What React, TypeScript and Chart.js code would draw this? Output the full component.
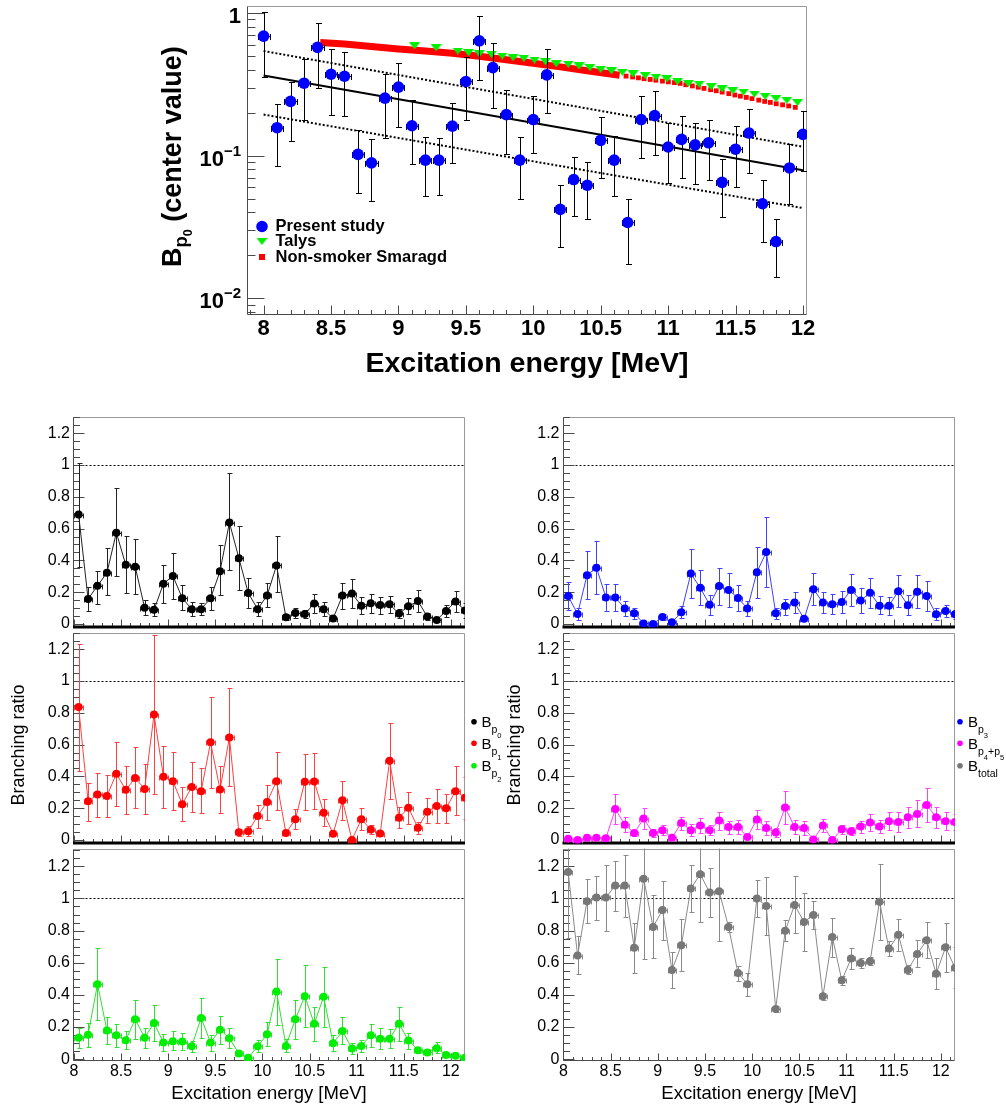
import React, { useEffect, useRef } from 'react';
import { Chart, registerables } from 'chart.js';

Chart.register(...registerables);

const FONT = '"Liberation Sans", Arial, Helvetica, sans-serif';

/* ====================== DATA ====================== */
// Excitation energies (MeV)
const topEnergies = [8.0, 8.1, 8.2, 8.3, 8.4, 8.5, 8.6, 8.7, 8.8, 8.9, 9.0, 9.1, 9.2, 9.3, 9.4, 9.5, 9.6, 9.7, 9.8, 9.9, 10.0, 10.1, 10.2, 10.3, 10.4, 10.5, 10.6, 10.7, 10.8, 10.9, 11.0, 11.1, 11.2, 11.3, 11.4, 11.5, 11.6, 11.7, 11.8, 11.9, 12.0];
const binEnergies = [8.05, 8.15, 8.25, 8.35, 8.45, 8.55, 8.65, 8.75, 8.85, 8.95, 9.05, 9.15, 9.25, 9.35, 9.45, 9.55, 9.65, 9.75, 9.85, 9.95, 10.05, 10.15, 10.25, 10.35, 10.45, 10.55, 10.65, 10.75, 10.85, 10.95, 11.05, 11.15, 11.25, 11.35, 11.45, 11.55, 11.65, 11.75, 11.85, 11.95, 12.05, 12.15];

// B_p0 (present study)
const bp0 = [0.688, 0.157, 0.240, 0.322, 0.574, 0.372, 0.360, 0.102, 0.089, 0.253, 0.302, 0.162, 0.093, 0.093, 0.161, 0.331, 0.638, 0.414, 0.194, 0.093, 0.179, 0.368, 0.042, 0.068, 0.062, 0.128, 0.093, 0.034, 0.179, 0.191, 0.115, 0.130, 0.119, 0.123, 0.065, 0.111, 0.144, 0.046, 0.025, 0.082, 0.141, 0.085];
const bp0Hi = [1.016, 0.230, 0.330, 0.476, 0.856, 0.556, 0.535, 0.152, 0.130, 0.372, 0.444, 0.244, 0.135, 0.133, 0.234, 0.494, 0.948, 0.618, 0.289, 0.135, 0.260, 0.556, 0.062, 0.098, 0.090, 0.186, 0.137, 0.050, 0.260, 0.282, 0.170, 0.189, 0.170, 0.177, 0.094, 0.162, 0.212, 0.067, 0.036, 0.120, 0.207, 0.132];
const bp0Lo = [0.358, 0.084, 0.126, 0.179, 0.300, 0.194, 0.189, 0.055, 0.048, 0.133, 0.158, 0.088, 0.052, 0.053, 0.089, 0.179, 0.338, 0.215, 0.103, 0.050, 0.105, 0.198, 0.023, 0.038, 0.036, 0.070, 0.052, 0.0175, 0.096, 0.101, 0.064, 0.070, 0.063, 0.067, 0.037, 0.060, 0.076, 0.025, 0.014, 0.046, 0.078, 0.036];

// B_p1
const bp1 = [0.836, 0.243, 0.286, 0.276, 0.417, 0.315, 0.389, 0.321, 0.789, 0.397, 0.370, 0.225, 0.333, 0.307, 0.614, 0.317, 0.645, 0.048, 0.054, 0.151, 0.239, 0.370, 0.044, 0.130, 0.366, 0.368, 0.171, 0.038, 0.249, 0.000, 0.130, 0.065, 0.040, 0.499, 0.140, 0.202, 0.077, 0.177, 0.214, 0.200, 0.307, 0.266];
const bp1Hi = [1.234, 0.360, 0.424, 0.409, 0.618, 0.467, 0.584, 0.479, 1.290, 0.594, 0.553, 0.331, 0.491, 0.452, 0.901, 0.464, 0.957, 0.071, 0.085, 0.222, 0.348, 0.553, 0.061, 0.194, 0.538, 0.546, 0.255, 0.054, 0.372, 0.012, 0.198, 0.091, 0.054, 0.738, 0.208, 0.303, 0.110, 0.262, 0.323, 0.290, 0.465, 0.399];
const bp1Lo = [0.434, 0.122, 0.147, 0.147, 0.214, 0.163, 0.202, 0.163, 0.286, 0.200, 0.190, 0.118, 0.177, 0.167, 0.327, 0.167, 0.337, 0.026, 0.026, 0.077, 0.128, 0.188, 0.028, 0.067, 0.190, 0.194, 0.087, 0.028, 0.128, -0.012, 0.061, 0.036, 0.026, 0.260, 0.075, 0.102, 0.040, 0.108, 0.108, 0.106, 0.157, 0.132];

// B_p2
const bp2 = [0.134, 0.153, 0.467, 0.179, 0.149, 0.118, 0.249, 0.134, 0.225, 0.104, 0.112, 0.110, 0.081, 0.257, 0.104, 0.184, 0.130, 0.036, 0.009, 0.081, 0.155, 0.421, 0.083, 0.249, 0.392, 0.221, 0.388, 0.099, 0.175, 0.067, 0.083, 0.149, 0.128, 0.128, 0.221, 0.116, 0.056, 0.042, 0.069, 0.026, 0.022, 0.009];
const bp2Hi = [0.194, 0.226, 0.692, 0.262, 0.221, 0.175, 0.368, 0.196, 0.335, 0.155, 0.174, 0.165, 0.114, 0.380, 0.153, 0.270, 0.194, 0.052, 0.015, 0.118, 0.231, 0.624, 0.124, 0.370, 0.585, 0.323, 0.573, 0.149, 0.262, 0.104, 0.122, 0.221, 0.194, 0.190, 0.327, 0.163, 0.077, 0.061, 0.106, 0.036, 0.030, 0.013];
const bp2Lo = [0.067, 0.073, 0.241, 0.097, 0.073, 0.061, 0.126, 0.067, 0.112, 0.052, 0.056, 0.056, 0.046, 0.134, 0.052, 0.093, 0.067, 0.019, 0.003, 0.046, 0.083, 0.216, 0.042, 0.128, 0.200, 0.112, 0.200, 0.052, 0.093, 0.030, 0.046, 0.077, 0.063, 0.067, 0.112, 0.061, 0.036, 0.024, 0.036, 0.016, 0.014, 0.005];

// B_p3
const bp3 = [0.175, 0.063, 0.307, 0.354, 0.167, 0.167, 0.097, 0.067, 0.003, 0.000, 0.044, 0.011, 0.073, 0.317, 0.227, 0.120, 0.239, 0.214, 0.163, 0.097, 0.325, 0.452, 0.067, 0.112, 0.134, 0.032, 0.218, 0.134, 0.124, 0.138, 0.214, 0.147, 0.196, 0.114, 0.114, 0.206, 0.118, 0.202, 0.175, 0.060, 0.081, 0.060];
const bp3Hi = [0.262, 0.097, 0.456, 0.523, 0.251, 0.251, 0.143, 0.101, 0.008, 0.005, 0.065, 0.018, 0.110, 0.471, 0.339, 0.183, 0.354, 0.323, 0.245, 0.143, 0.483, 0.672, 0.101, 0.155, 0.200, 0.045, 0.319, 0.200, 0.190, 0.208, 0.316, 0.226, 0.290, 0.175, 0.169, 0.306, 0.179, 0.308, 0.267, 0.097, 0.118, 0.087];
const bp3Lo = [0.087, 0.026, 0.155, 0.190, 0.081, 0.081, 0.052, 0.032, -0.002, -0.005, 0.024, 0.004, 0.036, 0.165, 0.118, 0.056, 0.122, 0.104, 0.081, 0.052, 0.165, 0.231, 0.032, 0.056, 0.067, 0.020, 0.118, 0.067, 0.063, 0.067, 0.112, 0.067, 0.097, 0.060, 0.056, 0.108, 0.056, 0.097, 0.081, 0.026, 0.046, 0.030];

// B_p4+p5
const bp45 = [0.007, 0.000, 0.013, 0.013, 0.011, 0.194, 0.095, 0.044, 0.134, 0.044, 0.061, 0.013, 0.106, 0.061, 0.091, 0.061, 0.122, 0.081, 0.081, 0.019, 0.128, 0.075, 0.046, 0.204, 0.081, 0.075, 0.003, 0.091, 0.000, 0.067, 0.054, 0.085, 0.110, 0.085, 0.118, 0.112, 0.143, 0.163, 0.220, 0.143, 0.118, 0.112];
const bp45Hi = [0.012, 0.004, 0.018, 0.018, 0.016, 0.290, 0.143, 0.065, 0.200, 0.070, 0.091, 0.018, 0.147, 0.097, 0.137, 0.091, 0.178, 0.122, 0.128, 0.026, 0.190, 0.118, 0.075, 0.307, 0.126, 0.118, 0.008, 0.132, 0.004, 0.091, 0.081, 0.122, 0.163, 0.126, 0.173, 0.173, 0.208, 0.249, 0.327, 0.204, 0.173, 0.163];
const bp45Lo = [0.002, -0.004, 0.008, 0.008, 0.006, 0.102, 0.050, 0.024, 0.067, 0.020, 0.030, 0.008, 0.061, 0.024, 0.046, 0.030, 0.061, 0.040, 0.036, 0.012, 0.067, 0.030, 0.019, 0.102, 0.036, 0.034, -0.002, 0.050, -0.004, 0.040, 0.030, 0.046, 0.056, 0.044, 0.061, 0.050, 0.077, 0.081, 0.112, 0.077, 0.061, 0.061];

// B_total
const btot = [1.164, 0.645, 0.983, 1.006, 1.006, 1.080, 1.080, 0.694, 1.123, 0.823, 0.928, 0.555, 0.709, 1.062, 1.150, 1.037, 1.045, 0.823, 0.536, 0.467, 1.000, 0.953, 0.313, 0.799, 0.959, 0.854, 0.897, 0.391, 0.760, 0.491, 0.627, 0.598, 0.610, 0.979, 0.688, 0.774, 0.555, 0.655, 0.740, 0.532, 0.696, 0.569];
const btotHi = [1.400, 0.764, 1.119, 1.140, 1.205, 1.232, 1.270, 0.850, 1.400, 1.021, 1.111, 0.666, 0.871, 1.205, 1.400, 1.189, 1.400, 0.853, 0.580, 0.538, 1.113, 1.133, 0.333, 0.863, 1.137, 1.031, 0.984, 0.409, 0.881, 0.518, 0.692, 0.627, 0.635, 1.215, 0.733, 0.873, 0.585, 0.744, 0.852, 0.631, 0.850, 0.696];
const btotLo = [0.754, 0.528, 0.846, 0.867, 0.799, 0.924, 0.885, 0.538, 0.621, 0.631, 0.740, 0.446, 0.549, 0.918, 0.856, 0.887, 0.738, 0.793, 0.487, 0.395, 0.887, 0.770, 0.292, 0.733, 0.785, 0.676, 0.811, 0.370, 0.637, 0.463, 0.563, 0.569, 0.586, 0.742, 0.641, 0.676, 0.528, 0.573, 0.631, 0.436, 0.543, 0.446];

// Talys
const talysE = [9.12, 9.28, 9.44, 9.52, 9.60, 9.69, 9.77, 9.85, 9.93, 10.01, 10.09, 10.17, 10.26, 10.34, 10.42, 10.50, 10.58, 10.66, 10.74, 10.83, 10.91, 10.99, 11.07, 11.15, 11.23, 11.32, 11.40, 11.48, 11.56, 11.64, 11.72, 11.80, 11.88, 11.96];
const talysV = [0.589, 0.571, 0.541, 0.527, 0.518, 0.513, 0.499, 0.486, 0.481, 0.468, 0.456, 0.441, 0.437, 0.425, 0.414, 0.403, 0.393, 0.384, 0.374, 0.364, 0.355, 0.345, 0.331, 0.320, 0.317, 0.305, 0.294, 0.285, 0.279, 0.270, 0.260, 0.251, 0.244, 0.236];

// Non-smoker Smaragd (dense part, drawn as a band) and discrete part
const smaragdBandE = [8.42, 8.6, 8.8, 9.0, 9.2, 9.4, 9.6, 9.8, 10.0, 10.2, 10.4, 10.64];
const smaragdBandV = [0.620, 0.605, 0.583, 0.560, 0.542, 0.522, 0.497, 0.470, 0.444, 0.419, 0.393, 0.366];
const smaragdE = [10.688, 10.737, 10.78, 10.822, 10.867, 10.909, 10.958, 11.002, 11.047, 11.089, 11.131, 11.18, 11.224, 11.266, 11.315, 11.357, 11.401, 11.45, 11.495, 11.536, 11.58, 11.622, 11.672, 11.716, 11.758, 11.802, 11.849, 11.894, 11.943];
const smaragdV = [0.361, 0.356, 0.351, 0.346, 0.342, 0.338, 0.333, 0.329, 0.325, 0.321, 0.314, 0.308, 0.302, 0.296, 0.290, 0.285, 0.279, 0.272, 0.266, 0.261, 0.256, 0.251, 0.245, 0.240, 0.236, 0.231, 0.227, 0.223, 0.218];

// exponential fit and its band
const fitE = [8.0, 12.0];
const fitCentral = [0.364, 0.0789];
const fitUpper = [0.541, 0.1154];
const fitLower = [0.194, 0.0429];

// ticks
const topXTicks = [8, 8.5, 9, 9.5, 10, 10.5, 11, 11.5, 12];
const topXTickLabels = ['8', '8.5', '9', '9.5', '10', '10.5', '11', '11.5', '12'];
const topYTicks = [0.01, 0.1, 1];
const topYTickBase = ['10', '10', '1'];
const topYTickExp = ['\u22122', '\u22121', ''];
const brXTicks = [8, 8.5, 9, 9.5, 10, 10.5, 11, 11.5, 12];
const brXTickLabels = ['8', '8.5', '9', '9.5', '10', '10.5', '11', '11.5', '12'];
const brYTicks = [0, 0.2, 0.4, 0.6, 0.8, 1, 1.2];
const brYTickLabels = ['0', '0.2', '0.4', '0.6', '0.8', '1', '1.2'];

const topLegendLabels = ['Present study', 'Talys', 'Non-smoker Smaragd'];
type Seg = [string, number];
const leftLegendLabels: Seg[][] = [
  [['B', 0], ['p', 1], ['0', 2]],
  [['B', 0], ['p', 1], ['1', 2]],
  [['B', 0], ['p', 1], ['2', 2]],
];
const rightLegendLabels: Seg[][] = [
  [['B', 0], ['p', 1], ['3', 2]],
  [['B', 0], ['p', 1], ['4', 2], ['+', 1], ['p', 1], ['5', 2]],
  [['B', 0], ['total', 1]],
];
const leftLegendColors = ['#000000', '#ff0000', '#00ee00'];
const rightLegendColors = ['#0000ff', '#ff00ff', '#777777'];

/* ====================== HELPERS ====================== */
function drawRich(ctx: CanvasRenderingContext2D, segs: Seg[], x: number, y: number, sizes: number[], offs: number[], weight = '') {
  let cx = x;
  segs.forEach(([t, lvl]) => {
    ctx.font = `${weight} ${sizes[lvl]}px ${FONT}`;
    ctx.fillText(t, cx, y + offs[lvl]);
    cx += ctx.measureText(t).width;
  });
  return cx;
}

function makeTriangle(color: string, w = 11, h = 7) {
  const c = document.createElement('canvas');
  c.width = w;
  c.height = h;
  const g = c.getContext('2d')!;
  g.fillStyle = color;
  g.beginPath();
  g.moveTo(0, 0);
  g.lineTo(w, 0);
  g.lineTo(w / 2, h);
  g.closePath();
  g.fill();
  return c;
}

const errorBarPlugin = {
  id: 'errorBars',
  beforeDatasetDraw(chart: any, args: any) {
    const ds: any = chart.data.datasets[args.index];
    if (!ds || !ds.errHi) return;
    const xs = chart.scales.x;
    const ys = chart.scales.y;
    const ctx = chart.ctx as CanvasRenderingContext2D;
    const a = chart.chartArea;
    ctx.save();
    ctx.beginPath();
    ctx.rect(a.left, a.top, a.right - a.left, a.bottom - a.top);
    ctx.clip();
    ctx.strokeStyle = ds.errColor;
    ctx.lineWidth = 1;
    ctx.beginPath();
    ds.data.forEach((pt: any, i: number) => {
      const px = Math.round(xs.getPixelForValue(pt.x)) + 0.5;
      const py = Math.round(ys.getPixelForValue(pt.y)) + 0.5;
      const hi = Math.round(ys.getPixelForValue(ds.errHi[i])) + 0.5;
      const lo = Math.round(ys.getPixelForValue(ds.errLo[i])) + 0.5;
      const xl = Math.round(xs.getPixelForValue(pt.x - ds.xErr)) + 0.5;
      const xr = Math.round(xs.getPixelForValue(pt.x + ds.xErr)) + 0.5;
      const c = ds.cap;
      if (Math.abs(lo - hi) > 1) {
        ctx.moveTo(px, hi); ctx.lineTo(px, lo);
        ctx.moveTo(px - c, hi); ctx.lineTo(px + c + 1, hi);
        ctx.moveTo(px - c, lo); ctx.lineTo(px + c + 1, lo);
      }
      ctx.moveTo(xl, py); ctx.lineTo(xr, py);
      ctx.moveTo(xl, py - c); ctx.lineTo(xl, py + c + 1);
      ctx.moveTo(xr, py - c); ctx.lineTo(xr, py + c + 1);
    });
    ctx.stroke();
    ctx.restore();
  },
};

type AxesOpts = {
  xMajor: number[]; xMinor: number[]; yMajor: number[]; yMinor: number[];
  xMaj: number; xMin: number; yMaj: number; yMin: number;
  unity?: boolean; thickBottom?: boolean;
};

function axesPlugin(o: AxesOpts) {
  return {
    id: 'rootAxes',
    beforeDatasetsDraw(chart: any) {
      const ctx = chart.ctx as CanvasRenderingContext2D;
      const a = chart.chartArea;
      const xs = chart.scales.x;
      const ys = chart.scales.y;
      ctx.save();
      ctx.lineWidth = 1;
      ctx.strokeStyle = '#9a9a9a';
      const L = Math.round(a.left) + 0.5;
      const R = Math.round(a.right) - 0.5;
      const T = Math.round(a.top) + 0.5;
      const B = Math.round(a.bottom) - 0.5;
      ctx.beginPath();
      ctx.moveTo(L, T); ctx.lineTo(R, T); ctx.lineTo(R, B);
      ctx.stroke();
      if (o.unity) {
        const y1 = Math.round(ys.getPixelForValue(1)) + 0.5;
        ctx.strokeStyle = '#000';
        ctx.setLineDash([2, 2]);
        ctx.beginPath();
        ctx.moveTo(L, y1); ctx.lineTo(R, y1);
        ctx.stroke();
        ctx.setLineDash([]);
      }
      ctx.strokeStyle = '#4a4a4a';
      ctx.beginPath();
      ctx.moveTo(L, T); ctx.lineTo(L, B); ctx.lineTo(R, B);
      const yt = (v: number, len: number) => {
        if (v < ys.min || v > ys.max) return;
        const p = Math.round(ys.getPixelForValue(v)) + 0.5;
        ctx.moveTo(L, p); ctx.lineTo(L + len, p);
      };
      const xt = (v: number, len: number) => {
        if (v < xs.min || v > xs.max) return;
        const p = Math.round(xs.getPixelForValue(v)) + 0.5;
        ctx.moveTo(p, B); ctx.lineTo(p, B - len);
      };
      o.yMajor.forEach((v) => yt(v, o.yMaj));
      o.yMinor.forEach((v) => yt(v, o.yMin));
      o.xMajor.forEach((v) => xt(v, o.xMaj));
      o.xMinor.forEach((v) => xt(v, o.xMin));
      ctx.stroke();
      if (o.thickBottom) {
        ctx.strokeStyle = '#000';
        ctx.lineWidth = 3;
        ctx.beginPath();
        ctx.moveTo(a.left, Math.round(a.bottom));
        ctx.lineTo(a.right, Math.round(a.bottom));
        ctx.stroke();
      }
      ctx.restore();
    },
  };
}

function textPlugin(draw: (ctx: CanvasRenderingContext2D, chart: any) => void) {
  return {
    id: 'extraText',
    afterDraw(chart: any) {
      const ctx = chart.ctx as CanvasRenderingContext2D;
      ctx.save();
      draw(ctx, chart);
      ctx.restore();
    },
  };
}

// minor tick positions (styling only)
function stepList(from: number, to: number, step: number, skipEvery: number) {
  const out: number[] = [];
  const n = Math.round((to - from) / step);
  for (let k = 0; k <= n; k++) {
    if (skipEvery > 0 && k % skipEvery === 0) continue;
    out.push(from + k * step);
  }
  return out;
}
const topXMinor = stepList(7.5, 12.5, 0.1, 5);
const brXMinor = stepList(7.5, 12.5, 0.1, 5);
const brYMinor = stepList(0, 1.3, 0.05, 4);
const topYMinor: number[] = [];
[0.001, 0.01, 0.1, 1].forEach((d) => { for (let m = 2; m <= 9; m++) topYMinor.push(m * d); });

/* ====================== TOP CHART ====================== */
function makeTop() {
  const tri = makeTriangle('#00ee00');
  const texts = (ctx: CanvasRenderingContext2D, chart: any) => {
    const a = chart.chartArea;
    const ys = chart.scales.y;
    ctx.fillStyle = '#000';
    ctx.textBaseline = 'middle';
    ctx.textAlign = 'right';
    topYTicks.forEach((v, i) => {
      const py = ys.getPixelForValue(v);
      let x = a.left - 6;
      if (topYTickExp[i]) {
        ctx.font = `bold 15px ${FONT}`;
        ctx.fillText(topYTickExp[i], x, py - 4);
        x -= ctx.measureText(topYTickExp[i]).width;
      }
      ctx.font = `bold 22px ${FONT}`;
      ctx.fillText(topYTickBase[i], x, py + 4);
    });
    // x title
    ctx.textAlign = 'center';
    ctx.font = `bold 28.5px ${FONT}`;
    ctx.fillText('Excitation energy [MeV]', (a.left + a.right) / 2, 364);
    // y title
    ctx.save();
    ctx.translate(181, 267);
    ctx.rotate(-Math.PI / 2);
    ctx.textAlign = 'left';
    ctx.textBaseline = 'alphabetic';
    drawRich(ctx, [['B', 0], ['p', 1], ['0', 2], [' (center value)', 0]], 0, 0, [27, 18.5, 12.5], [0, 6, 11], 'bold');
    ctx.restore();
    // legend
    const lx = 262;
    const lys = [226.5, 241.5, 257];
    ctx.fillStyle = '#0000ff';
    ctx.beginPath();
    ctx.arc(lx, lys[0], 5.8, 0, Math.PI * 2);
    ctx.fill();
    ctx.drawImage(tri, lx - tri.width / 2, lys[1] - tri.height / 2);
    ctx.fillStyle = '#ff0000';
    ctx.fillRect(lx - 3, lys[2] - 3, 6, 6);
    ctx.fillStyle = '#000';
    ctx.textAlign = 'left';
    ctx.textBaseline = 'middle';
    ctx.font = `bold 16.5px ${FONT}`;
    topLegendLabels.forEach((t, i) => ctx.fillText(t, 275.5, lys[i]));
  };

  return {
    type: 'scatter',
    data: {
      datasets: [
        {
          label: topLegendLabels[0],
          data: topEnergies.map((x, i) => ({ x, y: bp0[i] })),
          showLine: false,
          pointStyle: 'circle',
          pointRadius: 5.8,
          pointBackgroundColor: '#0000ff',
          pointBorderWidth: 0,
          errHi: bp0Hi, errLo: bp0Lo, errColor: '#000', xErr: 0.045, cap: 2.5,
          order: 0,
        },
        {
          label: topLegendLabels[1],
          data: talysE.map((x, i) => ({ x, y: talysV[i] })),
          showLine: false,
          pointStyle: tri,
          pointRadius: 5,
          order: 1,
        },
        {
          label: topLegendLabels[2],
          data: smaragdE.map((x, i) => ({ x, y: smaragdV[i] })),
          showLine: false,
          pointStyle: 'rect',
          pointRadius: 3.4,
          pointBackgroundColor: '#ff0000',
          pointBorderWidth: 0,
          order: 2,
        },
        {
          label: topLegendLabels[2] + ' (dense)',
          data: smaragdBandE.map((x, i) => ({ x, y: smaragdBandV[i] })),
          showLine: true,
          borderColor: '#ff0000',
          borderWidth: 7,
          borderCapStyle: 'butt',
          pointRadius: 0,
          order: 3,
        },
        {
          label: 'fit',
          data: fitE.map((x, i) => ({ x, y: fitCentral[i] })),
          showLine: true, borderColor: '#000', borderWidth: 2, pointRadius: 0, order: 4,
        },
        {
          label: 'fit upper',
          data: fitE.map((x, i) => ({ x, y: fitUpper[i] })),
          showLine: true, borderColor: '#000', borderWidth: 2, borderDash: [2, 2], pointRadius: 0, order: 5,
        },
        {
          label: 'fit lower',
          data: fitE.map((x, i) => ({ x, y: fitLower[i] })),
          showLine: true, borderColor: '#000', borderWidth: 2, borderDash: [2, 2], pointRadius: 0, order: 6,
        },
      ],
    },
    options: {
      animation: false,
      responsive: false,
      devicePixelRatio: 1,
      events: [],
      layout: { padding: { left: 247, right: 199, top: 4, bottom: 35 } },
      plugins: { legend: { display: false }, tooltip: { enabled: false } },
      scales: {
        x: {
          type: 'linear', min: 7.877, max: 12.03,
          grid: { display: false, drawTicks: false }, border: { display: false },
          afterBuildTicks: (ax: any) => { ax.ticks = topXTicks.map((v) => ({ value: v })); },
          afterFit: (ax: any) => { ax.height = 40; },
          ticks: {
            autoSkip: false, maxRotation: 0, minRotation: 0, padding: 1, color: '#000',
            font: { family: FONT, size: 22, weight: 'bold' },
            callback: (_v: any, i: number) => topXTickLabels[i],
          },
        },
        y: { type: 'logarithmic', display: false, min: 0.00764, max: 1.119 },
      },
    },
    plugins: [
      axesPlugin({ xMajor: topXTicks, xMinor: topXMinor, yMajor: topYTicks, yMinor: topYMinor, xMaj: 9, xMin: 4.5, yMaj: 17, yMin: 8 }),
      errorBarPlugin,
      textPlugin(texts),
    ],
  };
}

/* ====================== BRANCHING PANELS ====================== */
type Series = { label: string; vals: number[]; hi: number[]; lo: number[]; color: string; lineColor: string; errColor: string };

function makeBranch(p: {
  padding: { left: number; right: number; top: number; bottom: number };
  yMin: number; yMax: number; series: Series; showX: boolean; thickBottom: boolean;
  draw?: (ctx: CanvasRenderingContext2D, chart: any) => void;
}) {
  const s = p.series;
  const plugins: any[] = [
    axesPlugin({ xMajor: brXTicks, xMinor: brXMinor, yMajor: brYTicks, yMinor: brYMinor, xMaj: 7, xMin: 3.5, yMaj: 11, yMin: 6.5, unity: true, thickBottom: p.thickBottom }),
    errorBarPlugin,
  ];
  if (p.draw) plugins.push(textPlugin(p.draw));
  return {
    type: 'scatter',
    data: {
      datasets: [
        {
          label: s.label,
          data: binEnergies.map((x, i) => ({ x, y: s.vals[i] })),
          showLine: true,
          borderColor: s.lineColor,
          borderWidth: 1,
          pointRadius: 4,
          pointBackgroundColor: s.color,
          pointBorderWidth: 0,
          errHi: s.hi, errLo: s.lo, errColor: s.errColor, xErr: 0.045, cap: 2,
        },
      ],
    },
    options: {
      animation: false,
      responsive: false,
      devicePixelRatio: 1,
      events: [],
      layout: { padding: p.padding },
      plugins: { legend: { display: false }, tooltip: { enabled: false } },
      scales: {
        x: {
          type: 'linear', min: 7.99, max: 12.15, display: p.showX,
          grid: { display: false, drawTicks: false }, border: { display: false },
          afterBuildTicks: (ax: any) => { ax.ticks = brXTicks.map((v) => ({ value: v })); },
          afterFit: (ax: any) => { ax.height = p.showX ? 30 : 0; },
          ticks: {
            autoSkip: false, maxRotation: 0, minRotation: 0, padding: 1, color: '#000',
            font: { family: FONT, size: 16 },
            callback: (_v: any, i: number) => brXTickLabels[i],
          },
        },
        y: {
          type: 'linear', min: p.yMin, max: p.yMax,
          grid: { display: false, drawTicks: false }, border: { display: false },
          afterBuildTicks: (ax: any) => { ax.ticks = brYTicks.map((v) => ({ value: v })); },
          afterFit: (ax: any) => { ax.width = 60; },
          ticks: {
            autoSkip: false, padding: 3, color: '#000',
            font: { family: FONT, size: 16 },
            callback: (_v: any, i: number) => brYTickLabels[i],
          },
        },
      },
    },
    plugins,
  };
}

function yTitle(x: number, y: number) {
  return (ctx: CanvasRenderingContext2D) => {
    ctx.save();
    ctx.translate(x, y);
    ctx.rotate(-Math.PI / 2);
    ctx.fillStyle = '#000';
    ctx.font = `18px ${FONT}`;
    ctx.textAlign = 'center';
    ctx.textBaseline = 'middle';
    ctx.fillText('Branching ratio', 0, 0);
    ctx.restore();
  };
}

function xTitle(x: number, y: number) {
  return (ctx: CanvasRenderingContext2D) => {
    ctx.fillStyle = '#000';
    ctx.font = `18.5px ${FONT}`;
    ctx.textAlign = 'center';
    ctx.textBaseline = 'middle';
    ctx.fillText('Excitation energy [MeV]', x, y);
  };
}

function legend(mx: number, tx: number, ys: number[], labels: Seg[][], colors: string[]) {
  return (ctx: CanvasRenderingContext2D) => {
    labels.forEach((segs, i) => {
      ctx.fillStyle = colors[i];
      ctx.beginPath();
      ctx.arc(mx, ys[i], 2.8, 0, Math.PI * 2);
      ctx.fill();
      ctx.fillStyle = '#000';
      ctx.textAlign = 'left';
      ctx.textBaseline = 'alphabetic';
      drawRich(ctx, segs, tx, ys[i] + 5.4, [15, 10.5, 7.5], [0, 6, 11]);
    });
  };
}

const combine = (...fs: ((ctx: CanvasRenderingContext2D, chart: any) => void)[]) =>
  (ctx: CanvasRenderingContext2D, chart: any) => fs.forEach((f) => { ctx.save(); f(ctx, chart); ctx.restore(); });

const series: Record<string, Series> = {
  p0: { label: 'B_p0', vals: bp0, hi: bp0Hi, lo: bp0Lo, color: '#000000', lineColor: '#222222', errColor: '#222222' },
  p1: { label: 'B_p1', vals: bp1, hi: bp1Hi, lo: bp1Lo, color: '#ff0000', lineColor: '#ff4040', errColor: '#ff4040' },
  p2: { label: 'B_p2', vals: bp2, hi: bp2Hi, lo: bp2Lo, color: '#00ee00', lineColor: '#30e030', errColor: '#30e030' },
  p3: { label: 'B_p3', vals: bp3, hi: bp3Hi, lo: bp3Lo, color: '#0000ff', lineColor: '#4040ff', errColor: '#4040ff' },
  p45: { label: 'B_p4+p5', vals: bp45, hi: bp45Hi, lo: bp45Lo, color: '#ff00ff', lineColor: '#ff40ff', errColor: '#ff40ff' },
  tot: { label: 'B_total', vals: btot, hi: btotHi, lo: btotLo, color: '#777777', lineColor: '#8a8a8a', errColor: '#8a8a8a' },
};

/* ====================== COMPONENTS ====================== */
function ChartCanvas({ x, y, w, h, make }: { x: number; y: number; w: number; h: number; make: () => any }) {
  const ref = useRef<HTMLCanvasElement>(null);
  useEffect(() => {
    if (!ref.current) return;
    const chart = new Chart(ref.current, make());
    return () => chart.destroy();
  }, []);
  return (
    <canvas
      ref={ref}
      width={w}
      height={h}
      style={{ position: 'absolute', left: x, top: y, width: w, height: h }}
    />
  );
}

const LW = 510;
const RW = 516;
const RX = 490;
const padL = (bottom: number) => ({ left: 13, right: LW - 465, top: 10, bottom });
const padR = (bottom: number) => ({ left: 12.5, right: RW - (955 - RX), top: 10, bottom });

export default function App() {
  return (
    <div style={{ position: 'absolute', left: 0, top: 0, width: 1006, height: 1107, background: '#fff', overflow: 'hidden' }}>
      <ChartCanvas x={0} y={0} w={1006} h={390} make={makeTop} />

      <ChartCanvas x={0} y={404} w={LW} h={236} make={() => makeBranch({ padding: padL(10), yMin: -0.022, yMax: 1.305, series: series.p0, showX: false, thickBottom: true })} />
      <ChartCanvas x={0} y={620} w={LW} h={236} make={() => makeBranch({
        padding: padL(10), yMin: -0.022, yMax: 1.305, series: series.p1, showX: false, thickBottom: true,
        draw: combine(yTitle(19, 125), legend(474, 481.5, [101.7, 123.3, 145.7], leftLegendLabels, leftLegendColors)),
      })} />
      <ChartCanvas x={0} y={836} w={LW} h={271} make={() => makeBranch({
        padding: padL(16), yMin: -0.011, yMax: 1.31, series: series.p2, showX: true, thickBottom: false,
        draw: xTitle(269, 258),
      })} />

      <ChartCanvas x={RX} y={404} w={RW} h={236} make={() => makeBranch({ padding: padR(10), yMin: -0.022, yMax: 1.305, series: series.p3, showX: false, thickBottom: true })} />
      <ChartCanvas x={RX} y={620} w={RW} h={236} make={() => makeBranch({
        padding: padR(10), yMin: -0.022, yMax: 1.305, series: series.p45, showX: false, thickBottom: true,
        draw: combine(yTitle(25, 125), legend(470, 478, [101.7, 123.3, 145.7], rightLegendLabels, rightLegendColors)),
      })} />
      <ChartCanvas x={RX} y={836} w={RW} h={271} make={() => makeBranch({
        padding: padR(16), yMin: -0.011, yMax: 1.31, series: series.tot, showX: true, thickBottom: false,
        draw: xTitle(269, 258),
      })} />
    </div>
  );
}
